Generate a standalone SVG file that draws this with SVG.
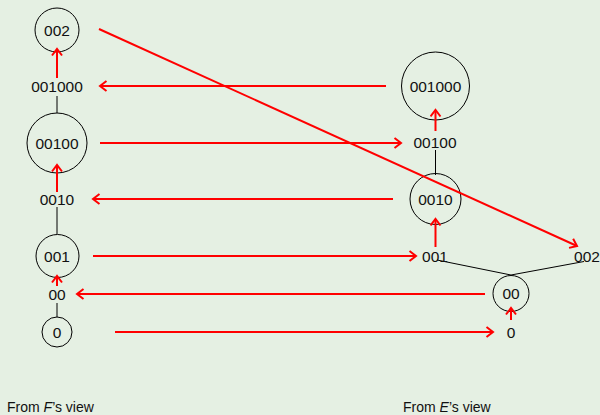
<svg xmlns="http://www.w3.org/2000/svg" width="600" height="415" viewBox="0 0 600 415">
  <style>
    .bg { fill: #e5f0e3; }
    .node circle { fill: none; stroke: #000; stroke-width: 1; }
    text { font-family: "Liberation Sans", Arial, sans-serif; font-size: 15.5px; fill: #111; text-anchor: middle; }
    .caption { font-size: 14px; text-anchor: start; }
    .edge { stroke: #000; stroke-width: 1; fill: none; }
    .arrow { stroke: #ff0000; stroke-width: 2; fill: none; marker-end: url(#head); }
  </style>
  <defs>
    <marker id="head" markerUnits="userSpaceOnUse" markerWidth="12" markerHeight="14" refX="8" refY="6" orient="auto">
      <path d="M1.5,1 L8,6 L1.5,11" fill="none" stroke="#ff0000" stroke-width="2"/>
    </marker>
  </defs>

  <rect class="bg" x="0" y="0" width="600" height="415"/>

  <!-- tree edges -->
  <g id="edges">
    <line class="edge" x1="57" y1="96" x2="57" y2="113"/>
    <line class="edge" x1="57" y1="207" x2="57" y2="234"/>
    <line class="edge" x1="57" y1="303" x2="57" y2="317"/>
    <line class="edge" x1="435.5" y1="150" x2="435.5" y2="175"/>
    <polyline class="edge" points="437,260 511,275 584,261.5"/>
  </g>

  <!-- left tree -->
  <g id="L-002" class="node"><circle cx="57" cy="30" r="22"/><text x="57" y="35.5">002</text></g>
  <g id="L-001000" class="node"><text x="57" y="91.5">001000</text></g>
  <g id="L-00100" class="node"><circle cx="57" cy="143" r="30"/><text x="57" y="148.5">00100</text></g>
  <g id="L-0010" class="node"><text x="57" y="205">0010</text></g>
  <g id="L-001" class="node"><circle cx="57.5" cy="256" r="21.5"/><text x="57" y="261.5">001</text></g>
  <g id="L-00" class="node"><text x="57" y="299.5">00</text></g>
  <g id="L-0" class="node"><circle cx="57" cy="332" r="15"/><text x="57" y="337.5">0</text></g>

  <!-- right tree -->
  <g id="R-001000" class="node"><circle cx="435.5" cy="86" r="34"/><text x="435.5" y="91.5">001000</text></g>
  <g id="R-00100" class="node"><text x="435" y="148">00100</text></g>
  <g id="R-0010" class="node"><circle cx="435.5" cy="199" r="25.5"/><text x="435.5" y="204.5">0010</text></g>
  <g id="R-001" class="node"><text x="435" y="262">001</text></g>
  <g id="R-002" class="node"><text x="587" y="261.5">002</text></g>
  <g id="R-00" class="node"><circle cx="511" cy="293.5" r="18"/><text x="511" y="299">00</text></g>
  <g id="R-0" class="node"><text x="511" y="337.5">0</text></g>

  <!-- message arrows -->
  <g id="connectors">
    <line class="arrow" x1="57" y1="78" x2="57" y2="49"/>
    <line class="arrow" x1="57" y1="192" x2="57" y2="165"/>
    <line class="arrow" x1="57" y1="286" x2="57" y2="276"/>
    <line class="arrow" x1="435.5" y1="131" x2="435.5" y2="110"/>
    <line class="arrow" x1="435.5" y1="247" x2="435.5" y2="219"/>
    <line class="arrow" x1="511" y1="320" x2="511" y2="308"/>

    <line class="arrow" x1="386" y1="86" x2="100" y2="86"/>
    <line class="arrow" x1="100" y1="143" x2="401" y2="143"/>
    <line class="arrow" x1="393" y1="199" x2="93" y2="199"/>
    <line class="arrow" x1="93" y1="256" x2="416" y2="256"/>
    <line class="arrow" x1="485" y1="294" x2="77" y2="294"/>
    <line class="arrow" x1="115" y1="332" x2="493" y2="332"/>
    <line class="arrow" x1="99" y1="29" x2="577" y2="246"/>
  </g>

  <text class="caption" x="7" y="412">From <tspan font-style="italic">F</tspan>’s view</text>
  <text class="caption" x="403" y="412">From <tspan font-style="italic">E</tspan>’s view</text>
</svg>
